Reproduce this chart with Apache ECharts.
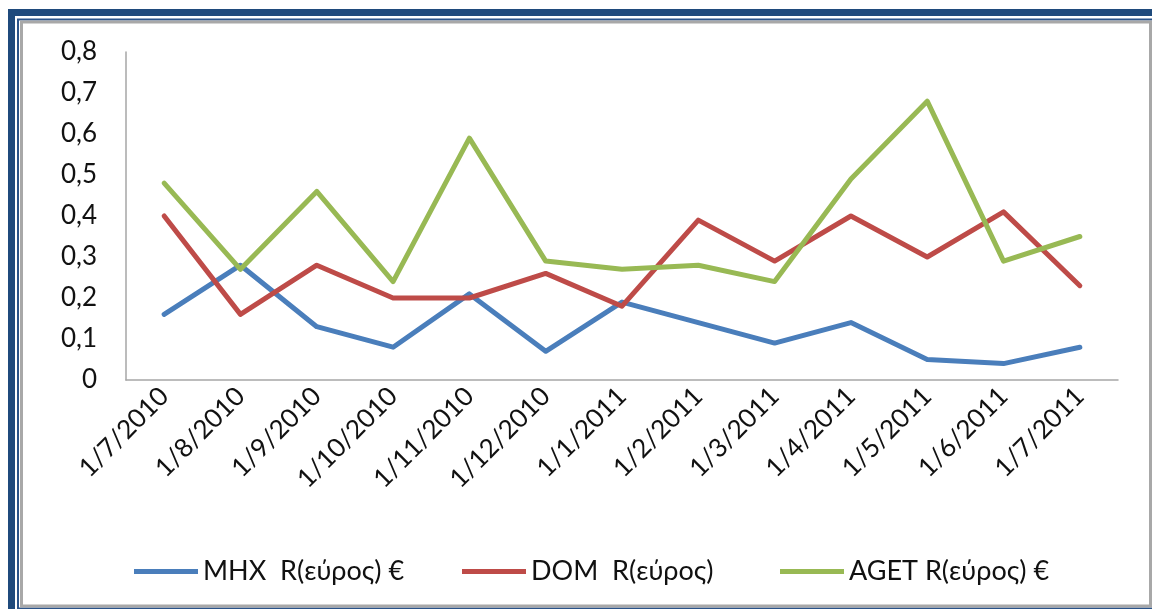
<!DOCTYPE html>
<html>
<head>
<meta charset="utf-8">
<script src="https://cdn.jsdelivr.net/npm/echarts@6/dist/echarts.min.js"></script>
<style>
html, body { margin: 0; padding: 0; background: #fff; }
#chart { width: 1152px; height: 609px; }
</style>
</head>
<body>
<div id="chart"></div>
<script>
// κατηγορίες (μήνες)
var categories = ['1/7/2010', '1/8/2010', '1/9/2010', '1/10/2010', '1/11/2010', '1/12/2010',
	'1/1/2011', '1/2/2011', '1/3/2011', '1/4/2011', '1/5/2011', '1/6/2011', '1/7/2011'];

var seriesNames = ['MHX  R(εύρος) €', 'DOM  R(εύρος)', 'AGET R(εύρος) €'];

var mhxValues  = [0.16, 0.28, 0.13, 0.08, 0.21, 0.07, 0.19, 0.14, 0.09, 0.14, 0.05, 0.04, 0.08];
var domValues  = [0.40, 0.16, 0.28, 0.20, 0.20, 0.26, 0.18, 0.39, 0.29, 0.40, 0.30, 0.41, 0.23];
var agetValues = [0.48, 0.27, 0.46, 0.24, 0.59, 0.29, 0.27, 0.28, 0.24, 0.49, 0.68, 0.29, 0.35];

var colors = ['#4A7EBB', '#BE4B48', '#98B954'];
var font = 'Lato, "Open Sans", sans-serif';

var myChart = echarts.init(document.getElementById('chart'));

function makeLegend(name, left) {
	return {
		data: [name],
		left: left,
		top: 553,
		icon: 'rect',
		itemWidth: 64,
		itemHeight: 5,
		textStyle: { fontFamily: font, fontSize: 27, color: '#111' }
	};
}

function makeSeries(name, data, color) {
	return {
		name: name,
		type: 'line',
		data: data,
		symbol: 'none',
		lineStyle: { width: 5, color: color, join: 'round', cap: 'round' },
		itemStyle: { color: color }
	};
}

var option = {
	animation: false,
	color: colors,
	grid: { left: 126, top: 52, right: 34, bottom: 229, containLabel: false },
	legend: [
		makeLegend(seriesNames[0], 129),
		makeLegend(seriesNames[1], 457),
		makeLegend(seriesNames[2], 775)
	],
	xAxis: {
		type: 'category',
		data: categories,
		boundaryGap: true,
		axisLine: { show: true, lineStyle: { color: '#A6A6A6', width: 1.5 } },
		axisTick: { show: false },
		axisLabel: { rotate: 45, margin: 12, interval: 0, fontFamily: font, fontSize: 26, color: '#111' }
	},
	yAxis: {
		type: 'value',
		min: 0,
		max: 0.8,
		interval: 0.1,
		axisLine: { show: true, lineStyle: { color: '#A6A6A6', width: 1.5 } },
		axisTick: { show: false },
		splitLine: { show: false },
		axisLabel: {
			margin: 29,
			fontFamily: font,
			fontSize: 26,
			color: '#111',
			formatter: function (v) { return v === 0 ? '0' : v.toFixed(1).replace('.', ','); }
		}
	},
	graphic: [
		{ type: 'rect', silent: true, shape: { x: 11.5, y: 12.5, width: 1200, height: 700 },
			style: { fill: null, stroke: '#1F4A7C', lineWidth: 7 } },
		{ type: 'rect', silent: true, shape: { x: 18, y: 19.5, width: 1200, height: 589 },
			style: { fill: null, stroke: '#2A5389', lineWidth: 2 } },
		{ type: 'rect', silent: true, shape: { x: 21.5, y: 22, width: 1129, height: 584 },
			style: { fill: null, stroke: '#A8A8A8', lineWidth: 3 } }
	],
	series: [
		makeSeries(seriesNames[0], mhxValues, colors[0]),
		makeSeries(seriesNames[1], domValues, colors[1]),
		makeSeries(seriesNames[2], agetValues, colors[2])
	]
};

myChart.setOption(option);
</script>
</body>
</html>
